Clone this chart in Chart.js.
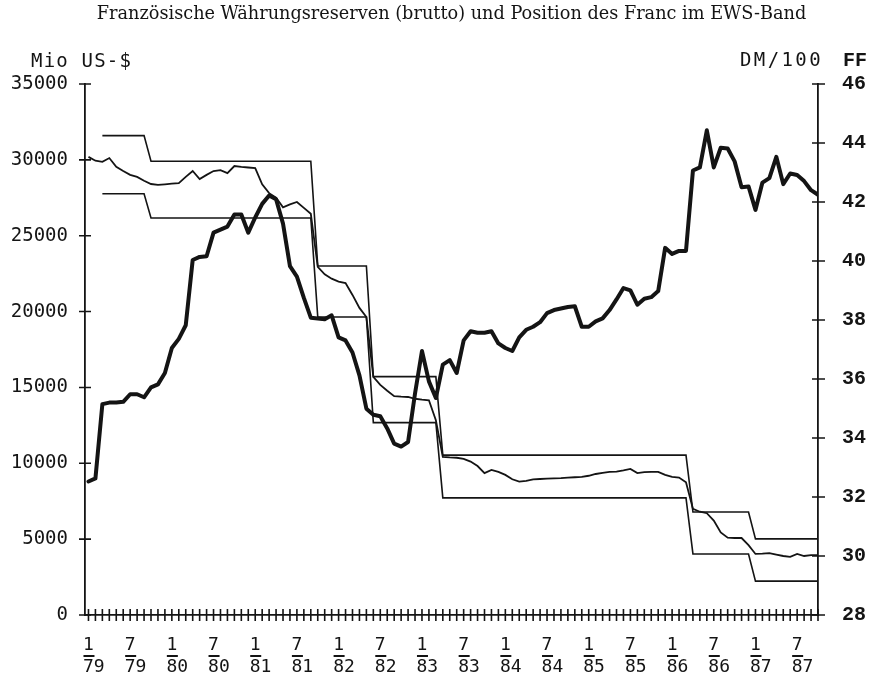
<!DOCTYPE html>
<html lang="de">
<head>
<meta charset="UTF-8">
<title>Französische Währungsreserven und Franc im EWS-Band</title>
<script src="https://cdn.jsdelivr.net/npm/chart.js@4.4.0/dist/chart.umd.min.js"></script>
<style>
  body { margin: 0; background: #fff; }
  #wrap { width: 874px; height: 679px; }
</style>
</head>
<body>
<div id="wrap"><canvas id="chart" width="874" height="679"></canvas></div>
<script>
// months counted from 1/79 (index 0) to 10/87 (index 105)
const reserves = [
  8800, 9000, 13900, 14000, 14000, 14050, 14550, 14550, 14350, 15000, 15200, 15950,
  17600, 18200, 19100, 23400, 23600, 23650, 25200, 25400, 25600, 26400, 26400, 25200,
  26200, 27100, 27650, 27400, 25800, 23000, 22300, 20900, 19600, 19550, 19500, 19750,
  18300, 18100, 17300, 15800, 13600, 13200, 13100, 12300, 11300, 11100, 11400, 14600,
  17400, 15400, 14300, 16500, 16800, 15950, 18100, 18700, 18600, 18600, 18700, 17900,
  17600, 17400, 18300, 18800, 19000, 19300, 19900, 20100, 20200, 20300, 20350, 19000,
  19000, 19350, 19550, 20100, 20800, 21550, 21400, 20450, 20850, 20950, 21350, 24200,
  23800, 24000, 24000, 29300, 29500, 31950, 29500, 30800, 30750, 29900, 28200, 28250,
  26700, 28500, 28800, 30200, 28400, 29100, 29000, 28600, 28000, 27700
];

const dmPer100FF = [
  43.53, 43.40, 43.36, 43.49, 43.19, 43.05, 42.92, 42.85, 42.72, 42.61, 42.58, 42.60,
  42.62, 42.64, 42.85, 43.05, 42.78, 42.92, 43.05, 43.08, 42.98, 43.22, 43.19, 43.17,
  43.15, 42.60, 42.30, 42.15, 41.82, 41.92, 42.00, 41.80, 41.60, 39.80, 39.55, 39.40,
  39.30, 39.25, 38.85, 38.41, 38.10, 36.07, 35.80, 35.60, 35.42, 35.40, 35.39, 35.33,
  35.30, 35.28, 34.60, 33.36, 33.34, 33.33, 33.29, 33.20, 33.05, 32.81, 32.92, 32.85,
  32.75, 32.60, 32.52, 32.55, 32.60, 32.61, 32.62, 32.63, 32.64, 32.66, 32.67, 32.68,
  32.72, 32.78, 32.82, 32.85, 32.86, 32.90, 32.95, 32.81, 32.84, 32.85, 32.85, 32.75,
  32.68, 32.66, 32.50, 31.60, 31.50, 31.45, 31.20, 30.80, 30.62, 30.61, 30.61, 30.37,
  30.07, 30.08, 30.10, 30.05, 30.00, 29.97, 30.07, 30.00, 30.03, 30.03
];

// EWS band limits: they only change at the realignments
const bandMonths = [2, 8, 9, 32, 33, 40, 41, 50, 51, 86, 87, 95, 96, 105];
const upperBand = [44.25, 44.25, 43.38, 43.38, 39.83, 39.83, 36.08, 36.08, 33.42, 33.42, 31.49, 31.49, 30.58, 30.58];
const lowerBand = [42.28, 42.28, 41.46, 41.46, 38.10, 38.10, 34.52, 34.52, 31.97, 31.97, 30.07, 30.07, 29.15, 29.15];

const tickLabels = ['1/79', '7/79', '1/80', '7/80', '1/81', '7/81', '1/82', '7/82', '1/83',
                    '7/83', '1/84', '7/84', '1/85', '7/85', '1/86', '7/86', '1/87', '7/87'];
const tickLabelMonths = [0, 6, 12, 18, 24, 30, 36, 42, 48, 54, 60, 66, 72, 78, 84, 90, 96, 102];

const ink = '#141414';
const monthTicks = reserves.map((v, i) => i);

const asPoints = (xs, ys) => ys.map((v, i) => ({ x: xs[i], y: v }));

const decorations = {
  id: 'decorations',
  afterDraw(chart) {
    const { ctx, chartArea, scales: { x, y, y2 } } = chart;
    ctx.save();
    ctx.strokeStyle = ink;
    ctx.fillStyle = ink;
    ctx.lineWidth = 1.6;
    ctx.beginPath();
    x.ticks.forEach(t => {
      const px = x.getPixelForValue(t.value);
      ctx.moveTo(px, x.top - 6);
      ctx.lineTo(px, x.top + 6);
    });
    y.ticks.forEach(t => {
      const py = y.getPixelForValue(t.value);
      ctx.moveTo(y.right - 6, py);
      ctx.lineTo(y.right + 6, py);
    });
    y2.ticks.forEach(t => {
      const py = y2.getPixelForValue(t.value);
      ctx.moveTo(y2.left - 6, py);
      ctx.lineTo(y2.left + 7, py);
    });
    ctx.stroke();

    // fraction bars under the month numbers
    ctx.lineWidth = 1.8;
    ctx.beginPath();
    tickLabelMonths.forEach(m => {
      const px = x.getPixelForValue(m);
      ctx.moveTo(px - 5, 656);
      ctx.lineTo(px + 6, 656);
    });
    ctx.stroke();

    ctx.textBaseline = 'middle';
    ctx.textAlign = 'center';
    ctx.font = '17.7px "DejaVu Serif"';
    ctx.fillText('Französische Währungsreserven (brutto) und Position des Franc im EWS-Band',
      (chartArea.left + chartArea.right) / 2, 14);

    ctx.textAlign = 'left';
    ctx.font = '19px "DejaVu Sans Mono"';
    ctx.letterSpacing = '1.2px';
    ctx.fillText('Mio US-$', 31, 62);
    ctx.letterSpacing = '2.4px';
    ctx.fillText('DM/100', 740, 61);
    ctx.letterSpacing = '0px';
    ctx.font = 'bold 20px "Liberation Mono"';
    ctx.fillText('FF', 843, 61);
    ctx.restore();
  }
};

new Chart(document.getElementById('chart'), {
  type: 'line',
  data: {
    datasets: [
      { label: 'Währungsreserven', data: asPoints(monthTicks, reserves), yAxisID: 'y',
        borderColor: ink, borderWidth: 4, borderJoinStyle: 'round', borderCapStyle: 'round' },
      { label: 'DM/100 FF', data: asPoints(monthTicks, dmPer100FF), yAxisID: 'y2',
        borderColor: ink, borderWidth: 1.8 },
      { label: 'obere Bandgrenze', data: asPoints(bandMonths, upperBand), yAxisID: 'y2',
        borderColor: ink, borderWidth: 1.6 },
      { label: 'untere Bandgrenze', data: asPoints(bandMonths, lowerBand), yAxisID: 'y2',
        borderColor: ink, borderWidth: 1.6 }
    ]
  },
  options: {
    responsive: false,
    animation: false,
    elements: { point: { radius: 0 }, line: { tension: 0 } },
    layout: { padding: { top: 84, left: 0, right: 0, bottom: 0 } },
    plugins: { legend: { display: false }, tooltip: { enabled: false }, title: { display: false } },
    scales: {
      x: {
        type: 'linear', min: -0.5, max: 105,
        afterBuildTicks: s => { s.ticks = monthTicks.map(v => ({ value: v })); },
        afterFit: s => { s.height = 64; },
        grid: { display: false, drawTicks: false },
        border: { display: true, color: ink, width: 1.8 },
        ticks: {
          autoSkip: false, maxRotation: 0, minRotation: 0, padding: 20, labelOffset: 5.4,
          color: ink, font: { family: 'DejaVu Sans Mono', size: 18, lineHeight: 1.2 },
          callback: v => {
            const k = tickLabelMonths.indexOf(v);
            if (k < 0) return '';
            const parts = tickLabels[k].split('/');
            return [parts[0] + ' ', parts[1]];
          }
        }
      },
      y: {
        position: 'left', min: 0, max: 35000,
        afterFit: s => { s.width = 85; },
        grid: { display: false, drawTicks: false },
        border: { display: true, color: ink, width: 1.8 },
        ticks: { stepSize: 5000, padding: 17, color: ink,
                 font: { family: 'DejaVu Sans Mono', size: 19 },
                 callback: v => String(v) }
      },
      y2: {
        position: 'right', min: 28, max: 46,
        afterFit: s => { s.width = 56; },
        grid: { display: false, drawTicks: false },
        border: { display: true, color: ink, width: 1.8 },
        ticks: { stepSize: 2, padding: 24, color: ink,
                 font: { family: 'Liberation Mono', size: 20, weight: 'bold' } }
      }
    }
  },
  plugins: [decorations]
});
</script>
</body>
</html>
